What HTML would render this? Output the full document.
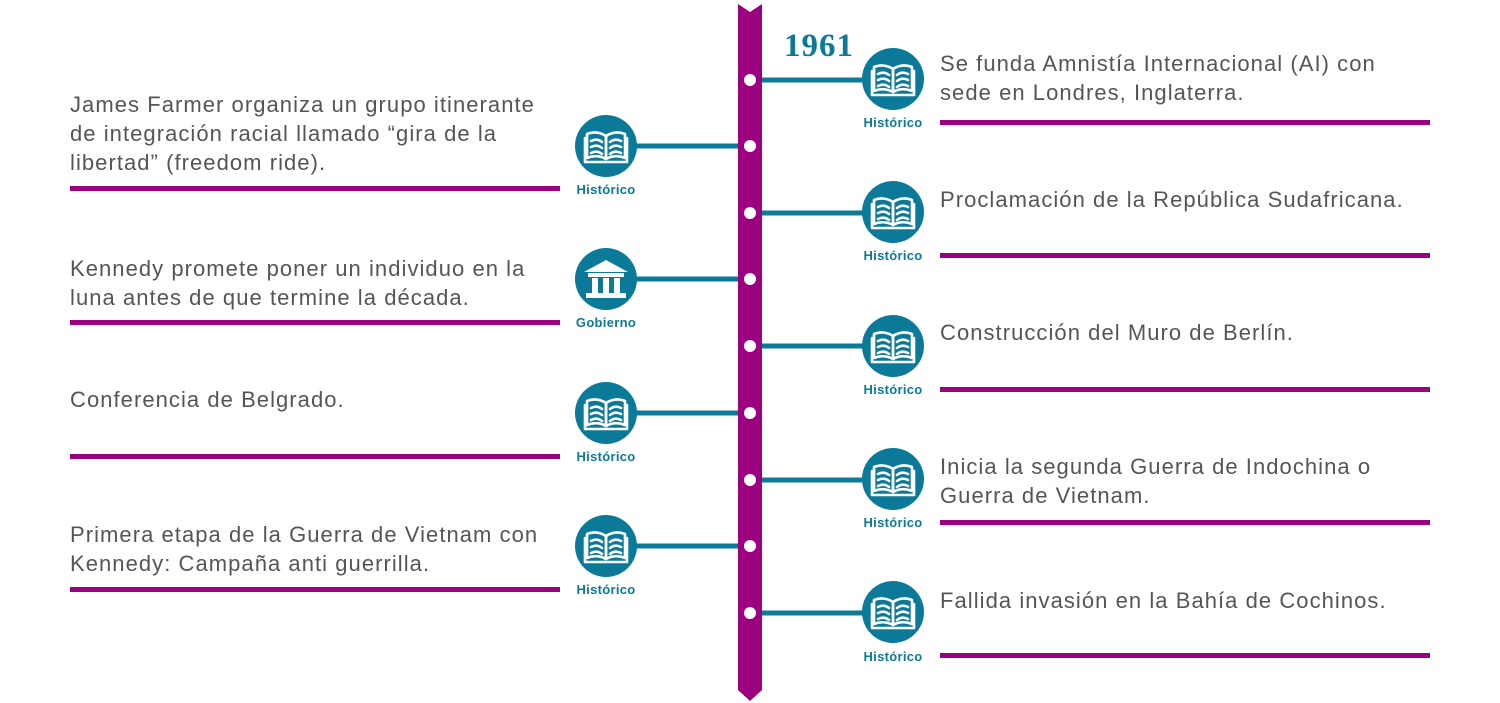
<!DOCTYPE html>
<html><head><meta charset="utf-8"><style>
html,body{margin:0;padding:0;background:#fff;}
svg{display:block}
.t{font-family:"Liberation Sans",sans-serif;font-size:22px;fill:#555;letter-spacing:1.05px;}
.l{font-family:"Liberation Sans",sans-serif;font-size:13px;font-weight:bold;fill:#0b7a99;letter-spacing:0.3px;}
</style></head><body>
<svg width="1500" height="703" viewBox="0 0 1500 703" xmlns="http://www.w3.org/2000/svg">
<defs>
<g id="book">
<circle r="31" fill="#0b7a99"/>
<g fill="none" stroke="#fff" stroke-width="2.6" stroke-linecap="round" stroke-linejoin="round">
<path d="M0,-10 Q-9,-16 -19,-12 V12 Q-9,8 0,13 Z"/>
<path d="M0,-10 Q9,-16 19,-12 V12 Q9,8 0,13 Z"/>
<path d="M-15,-5 Q-9,-8 -4,-4 M-15,1 Q-9,-2 -4,2 M-15,7 Q-9,4 -4,8"/>
<path d="M15,-5 Q9,-8 4,-4 M15,1 Q9,-2 4,2 M15,7 Q9,4 4,8"/>
<path d="M-21,-8 V16 H21 V-8"/>
</g>
</g>
<g id="gov">
<circle r="31" fill="#0b7a99"/>
<g fill="#fff">
<polygon points="0,-19 -22,-7 22,-7"/>
<rect x="-18" y="-6" width="36" height="4"/>
<rect x="-14" y="-1" width="6" height="15"/>
<rect x="-3" y="-1" width="6" height="15"/>
<rect x="8" y="-1" width="6" height="15"/>
<rect x="-20" y="14" width="40" height="5"/>
</g>
</g>
</defs>

<g stroke="#0b7a99" stroke-width="5">
<line x1="750" y1="80" x2="880" y2="80"/>
<line x1="750" y1="213" x2="880" y2="213"/>
<line x1="750" y1="346" x2="880" y2="346"/>
<line x1="750" y1="480" x2="880" y2="480"/>
<line x1="750" y1="613" x2="880" y2="613"/>
<line x1="620" y1="146" x2="750" y2="146"/>
<line x1="620" y1="279" x2="750" y2="279"/>
<line x1="620" y1="413" x2="750" y2="413"/>
<line x1="620" y1="546" x2="750" y2="546"/>
</g>

<polygon points="738,4 750,12 762,4 762,690 750,701 738,690" fill="#9b007f"/>
<g fill="#fff">
<circle cx="750" cy="80" r="6"/><circle cx="750" cy="146" r="6"/>
<circle cx="750" cy="213" r="6"/><circle cx="750" cy="279" r="6"/>
<circle cx="750" cy="346" r="6"/><circle cx="750" cy="413" r="6"/>
<circle cx="750" cy="480" r="6"/><circle cx="750" cy="546" r="6"/>
<circle cx="750" cy="613" r="6"/>
</g>

<text x="784" y="56" font-family="Liberation Serif,serif" font-size="33" font-weight="bold" fill="#0b7a99" letter-spacing="1">1961</text>

<use href="#book" x="893" y="79"/>
<use href="#book" x="893" y="212"/>
<use href="#book" x="893" y="346"/>
<use href="#book" x="893" y="479"/>
<use href="#book" x="893" y="612"/>
<use href="#book" x="606" y="146"/>
<use href="#gov" x="606" y="279"/>
<use href="#book" x="606" y="413"/>
<use href="#book" x="606" y="546"/>

<g text-anchor="middle">
<text class="l" x="893" y="127">Histórico</text>
<text class="l" x="893" y="260">Histórico</text>
<text class="l" x="893" y="394">Histórico</text>
<text class="l" x="893" y="527">Histórico</text>
<text class="l" x="893" y="661">Histórico</text>
<text class="l" x="606" y="194">Histórico</text>
<text class="l" x="606" y="327">Gobierno</text>
<text class="l" x="606" y="461">Histórico</text>
<text class="l" x="606" y="594">Histórico</text>
</g>

<g fill="#9b007f">
<rect x="940" y="120" width="490" height="5"/>
<rect x="940" y="253" width="490" height="5"/>
<rect x="940" y="387" width="490" height="5"/>
<rect x="940" y="520" width="490" height="5"/>
<rect x="940" y="653" width="490" height="5"/>
<rect x="70" y="186" width="490" height="5"/>
<rect x="70" y="320" width="490" height="5"/>
<rect x="70" y="454" width="490" height="5"/>
<rect x="70" y="587" width="490" height="5"/>
</g>

<text class="t" x="940" y="71">Se funda Amnistía Internacional (AI) con</text>
<text class="t" x="940" y="100">sede en Londres, Inglaterra.</text>
<text class="t" x="940" y="207">Proclamación de la República Sudafricana.</text>
<text class="t" x="940" y="340">Construcción del Muro de Berlín.</text>
<text class="t" x="940" y="474">Inicia la segunda Guerra de Indochina o</text>
<text class="t" x="940" y="503">Guerra de Vietnam.</text>
<text class="t" x="940" y="608">Fallida invasión en la Bahía de Cochinos.</text>

<text class="t" x="70" y="112">James Farmer organiza un grupo itinerante</text>
<text class="t" x="70" y="141">de integración racial llamado “gira de la</text>
<text class="t" x="70" y="170">libertad” (freedom ride).</text>
<text class="t" x="70" y="276">Kennedy promete poner un individuo en la</text>
<text class="t" x="70" y="305">luna antes de que termine la década.</text>
<text class="t" x="70" y="407">Conferencia de Belgrado.</text>
<text class="t" x="70" y="542">Primera etapa de la Guerra de Vietnam con</text>
<text class="t" x="70" y="571">Kennedy: Campaña anti guerrilla.</text>
</svg>
</body></html>
